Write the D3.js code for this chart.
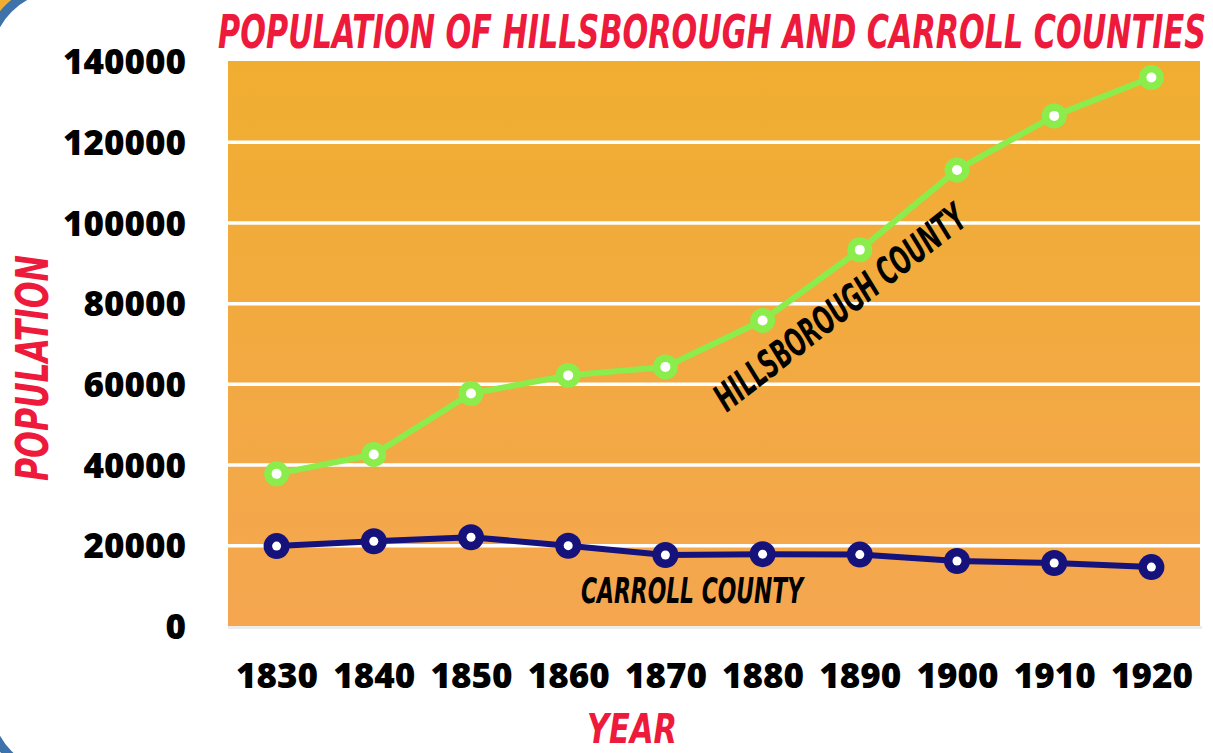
<!DOCTYPE html>
<html>
<head>
<meta charset="utf-8">
<script src="https://cdn.jsdelivr.net/npm/d3@7"></script>
<style>
  html, body { margin: 0; padding: 0; background: #fff; }
  svg { display: block; }
</style>
</head>
<body>
<svg id="chart" width="1213" height="753"></svg>
<script>
// data
var years = [1830, 1840, 1850, 1860, 1870, 1880, 1890, 1900, 1910, 1920];
var hillsborough = [37700, 42500, 57600, 62100, 64200, 75700, 93200, 113000, 126400, 135900];
var carroll = [19800, 21000, 22000, 19900, 17600, 17800, 17700, 16100, 15600, 14600];
var yTicks = [0, 20000, 40000, 60000, 80000, 100000, 120000, 140000];

var svg = d3.select("#chart");
var margin = { top: 61, right: 13, bottom: 127, left: 228 };
var width = 1213, height = 753;
var innerW = width - margin.left - margin.right;
var innerH = height - margin.top - margin.bottom;
var condensed = "'Liberation Sans Narrow', 'DejaVu Sans Condensed', sans-serif";

// frame corners
svg.append("rect")
  .attr("width", width).attr("height", 40)
  .attr("fill", "#f0ae31");
svg.append("rect")
  .attr("x", -12).attr("y", -12)
  .attr("width", 1400).attr("height", 787)
  .attr("rx", 70)
  .attr("fill", "#fff")
  .attr("stroke", "#3d72ab")
  .attr("stroke-width", 9);

var defs = svg.append("defs");
var grad = defs.append("linearGradient")
  .attr("id", "bg-grad")
  .attr("x1", 0).attr("y1", 0).attr("x2", 0).attr("y2", 1);
grad.append("stop").attr("offset", "0%").attr("stop-color", "#f0ae31");
grad.append("stop").attr("offset", "100%").attr("stop-color", "#f5a650");

var x = d3.scalePoint().domain(years).range([0, innerW]).padding(0.5);
var y = d3.scaleLinear().domain([0, 140000]).range([innerH, 0]);

var g = svg.append("g").attr("transform", `translate(${margin.left},${margin.top})`);

// plot background
g.append("rect")
  .attr("width", innerW).attr("height", innerH)
  .attr("fill", "url(#bg-grad)");
g.append("line")
  .attr("x1", 0).attr("x2", innerW + 2)
  .attr("y1", innerH + 1.5).attr("y2", innerH + 1.5)
  .attr("stroke", "#ececec").attr("stroke-width", 3);

// white grid lines
g.append("g")
  .call(d3.axisLeft(y).tickValues(yTicks.slice(1, -1)).tickSize(-innerW).tickFormat(""))
  .call(a => a.select(".domain").remove())
  .call(a => a.selectAll(".tick line").attr("stroke", "#fff").attr("stroke-width", 3.5));

// y axis labels
g.append("g")
  .attr("transform", "translate(-39,0)")
  .call(d3.axisLeft(y).tickValues(yTicks).tickSize(0).tickFormat(d3.format("d")))
  .call(a => a.select(".domain").remove())
  .call(a => a.selectAll("text")
    .attr("font-family", "'Open Sans', sans-serif")
    .attr("font-weight", 800)
    .attr("font-size", 35)
    .attr("fill", "#000")
    .attr("dy", "0.36em"));

// x axis labels
g.append("g")
  .attr("transform", `translate(0,${innerH})`)
  .call(d3.axisBottom(x).tickSize(0).tickPadding(37))
  .call(a => a.select(".domain").remove())
  .call(a => a.selectAll("text")
    .attr("font-family", "'Open Sans', sans-serif")
    .attr("font-weight", 800)
    .attr("font-size", 35)
    .attr("fill", "#000"));

// series
function drawSeries(values, color, r, inner) {
  var pts = years.map((yr, i) => [yr, values[i]]);
  var line = d3.line().x(d => x(d[0])).y(d => y(d[1]));
  g.append("path")
    .datum(pts)
    .attr("d", line)
    .attr("fill", "none")
    .attr("stroke", color)
    .attr("stroke-width", 6)
    .attr("stroke-linejoin", "round");
  g.selectAll(null).data(pts).enter().append("circle")
    .attr("cx", d => x(d[0])).attr("cy", d => y(d[1]))
    .attr("r", r).attr("fill", color);
  g.selectAll(null).data(pts).enter().append("circle")
    .attr("cx", d => x(d[0])).attr("cy", d => y(d[1]))
    .attr("r", inner).attr("fill", "#fff");
}
drawSeries(hillsborough, "#8aed4c", 12.5, 5);
drawSeries(carroll, "#15127b", 13, 4.5);

// condensed italic label, squeezed horizontally to a target width
function label(txt, cx, cy, angle, size, w, color) {
  var t = svg.append("text")
    .attr("text-anchor", "middle")
    .attr("font-family", condensed)
    .attr("font-weight", "bold")
    .attr("font-style", "italic")
    .attr("font-size", size)
    .attr("fill", color)
    .text(txt);
  var s = w / t.node().getComputedTextLength();
  t.attr("transform", `translate(${cx},${cy}) rotate(${angle}) scale(${s},1)`);
  return t;
}

label("HILLSBOROUGH COUNTY", 848, 318, -38, 38, 308, "#000");
label("CARROLL COUNTY", 692, 603, 0, 35, 222, "#000");

// title and axis titles
label("POPULATION OF HILLSBOROUGH AND CARROLL COUNTIES", 712, 48, 0, 47, 988, "#ee1a3b");
label("YEAR", 632, 743, 0, 41, 90, "#ee1a3b");
label("POPULATION", 48, 368, -90, 44, 226, "#ee1a3b");
</script>
</body>
</html>
